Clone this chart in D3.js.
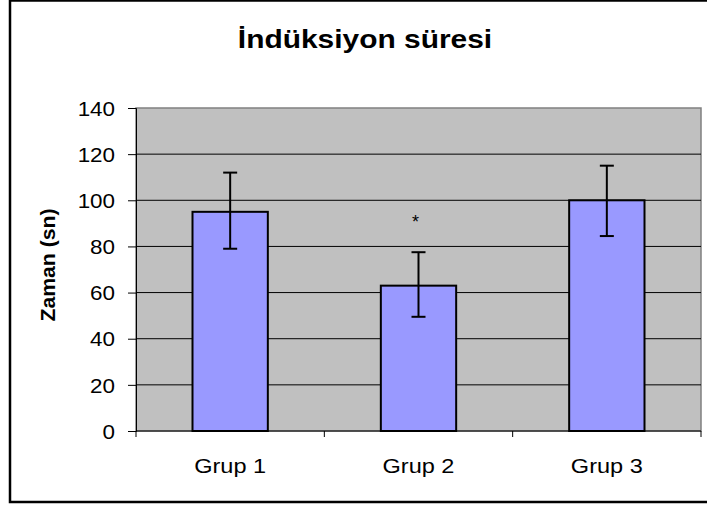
<!DOCTYPE html>
<html lang="tr">
<head>
  <meta charset="UTF-8">
  <script src="https://d3js.org/d3.v7.min.js"></script>
  <title>İndüksiyon süresi</title>
  <style>
    body { margin: 0; background: #fff; }
    text { font-family: "Liberation Sans", Arial, sans-serif; fill: #000; }
  </style>
</head>
<body>
  <svg id="chart" width="707" height="508"></svg>
  <script>
    // data
    var groups = ["Grup 1", "Grup 2", "Grup 3"];
    var means = [95, 63, 100];
    var errUp = [112, 77.5, 115];
    var errDown = [79, 49.5, 84.5];
    var marks = ["", "*", ""];
    var yTicks = [0, 20, 40, 60, 80, 100, 120, 140];

    var svg = d3.select("#chart");

    // widen the glyphs a little, the original font runs wider than Liberation
    function stretch(sel, k) {
      sel.each(function() {
        var w = this.getComputedTextLength();
        d3.select(this).attr("textLength", w * k).attr("lengthAdjust", "spacingAndGlyphs");
      });
    }

    // outer frame of the chart
    svg.append("rect")
      .attr("x", 10).attr("y", 0.5)
      .attr("width", 710).attr("height", 501.5)
      .attr("fill", "none").attr("stroke", "#000").attr("stroke-width", 2.5);

    var pLeft = 136, pRight = 701, pTop = 108, pBottom = 431;

    var x = d3.scaleBand().domain(groups).range([pLeft, pRight])
      .paddingInner(0.6).paddingOuter(0.3);
    var y = d3.scaleLinear().domain([0, 140]).range([pBottom, pTop]);

    // plot area
    svg.append("rect")
      .attr("x", pLeft).attr("y", pTop)
      .attr("width", pRight - pLeft).attr("height", pBottom - pTop)
      .attr("fill", "#c0c0c0").attr("stroke", "#808080").attr("stroke-width", 1.5);

    // grid lines
    svg.append("g").selectAll("line")
      .data(yTicks.slice(1, -1))
      .enter().append("line")
        .attr("x1", pLeft).attr("x2", pRight)
        .attr("y1", function(d) { return y(d); })
        .attr("y2", function(d) { return y(d); })
        .attr("stroke", "#000").attr("stroke-width", 1);

    // y axis
    var yAxis = svg.append("g")
      .attr("transform", "translate(" + pLeft + ",0)")
      .call(d3.axisLeft(y).tickValues(yTicks).tickSize(8).tickPadding(13));
    yAxis.select(".domain").attr("stroke", "#000");
    yAxis.selectAll("text").attr("font-family", null).style("font-size", "20px")
      .attr("dy", "0.36em").call(stretch, 1.12);

    // x axis, ticks between the groups
    svg.append("line")
      .attr("x1", pLeft).attr("x2", pRight)
      .attr("y1", pBottom).attr("y2", pBottom)
      .attr("stroke", "#000");
    var step = x.step();
    var bounds = [pLeft, pLeft + step, pLeft + 2 * step, pRight];
    svg.append("g").selectAll("line")
      .data(bounds)
      .enter().append("line")
        .attr("x1", function(d) { return d; }).attr("x2", function(d) { return d; })
        .attr("y1", pBottom).attr("y2", pBottom + 6)
        .attr("stroke", "#000");

    svg.append("g").selectAll("text")
      .data(groups)
      .enter().append("text")
        .attr("x", function(d) { return x(d) + x.bandwidth() / 2; })
        .attr("y", 473)
        .attr("text-anchor", "middle")
        .style("font-size", "21px")
        .text(function(d) { return d; })
        .call(stretch, 1.12);

    // bars
    svg.append("g").selectAll("rect")
      .data(groups)
      .enter().append("rect")
        .attr("x", function(d) { return x(d); })
        .attr("y", function(d, i) { return y(means[i]); })
        .attr("width", x.bandwidth())
        .attr("height", function(d, i) { return pBottom - y(means[i]); })
        .attr("fill", "#9999ff").attr("stroke", "#000").attr("stroke-width", 2);

    // error bars
    var eb = svg.append("g").selectAll("g")
      .data(groups)
      .enter().append("g")
        .attr("stroke", "#000").attr("stroke-width", 2);
    eb.append("line")
      .attr("x1", function(d) { return x(d) + x.bandwidth() / 2; })
      .attr("x2", function(d) { return x(d) + x.bandwidth() / 2; })
      .attr("y1", function(d, i) { return y(errUp[i]); })
      .attr("y2", function(d, i) { return y(errDown[i]); });
    eb.append("line")
      .attr("x1", function(d) { return x(d) + x.bandwidth() / 2 - 7; })
      .attr("x2", function(d) { return x(d) + x.bandwidth() / 2 + 7; })
      .attr("y1", function(d, i) { return y(errUp[i]); })
      .attr("y2", function(d, i) { return y(errUp[i]); });
    eb.append("line")
      .attr("x1", function(d) { return x(d) + x.bandwidth() / 2 - 7; })
      .attr("x2", function(d) { return x(d) + x.bandwidth() / 2 + 7; })
      .attr("y1", function(d, i) { return y(errDown[i]); })
      .attr("y2", function(d, i) { return y(errDown[i]); });

    // significance mark
    svg.append("g").selectAll("text")
      .data(groups)
      .enter().append("text")
        .attr("x", function(d) { return x(d) + x.bandwidth() / 2 - 3; })
        .attr("y", function(d, i) { return y(errUp[i]) - 24; })
        .attr("text-anchor", "middle")
        .style("font-size", "18px")
        .text(function(d, i) { return marks[i]; });

    // titles
    svg.append("text")
      .attr("x", 365).attr("y", 48)
      .attr("text-anchor", "middle")
      .style("font-size", "26px").style("font-weight", "bold")
      .text("İndüksiyon süresi")
      .call(stretch, 1.15);

    svg.append("text")
      .attr("transform", "translate(55,265) rotate(-90)")
      .attr("text-anchor", "middle")
      .style("font-size", "20px").style("font-weight", "bold")
      .text("Zaman (sn)")
      .call(stretch, 1.06);
  </script>
</body>
</html>
